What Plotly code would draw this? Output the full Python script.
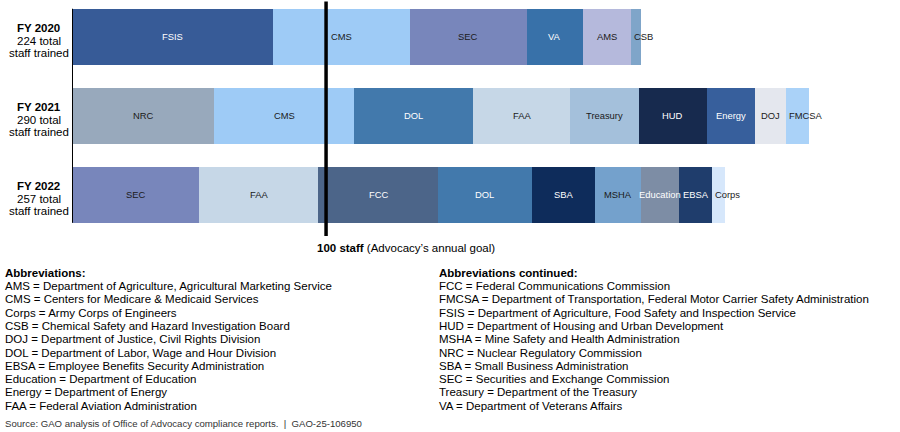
import plotly.graph_objects as go

# ---------------- data ----------------
years = ["FY 2020", "FY 2021", "FY 2022"]
agencies_2020 = ["FSIS", "CMS", "SEC", "VA", "AMS", "CSB"]
staff_2020 = [79, 54, 46, 22, 19, 4]
agencies_2021 = ["NRC", "CMS", "DOL", "FAA", "Treasury", "HUD", "Energy", "DOJ", "FMCSA"]
staff_2021 = [56, 55, 47, 38, 27, 27, 19, 12, 9]
agencies_2022 = ["SEC", "FAA", "FCC", "DOL", "SBA", "MSHA", "Education", "EBSA", "Corps"]
staff_2022 = [50, 47, 47, 37, 25, 18, 15, 13, 5]
goal_staff = 100
goal_label = "<b>100 staff</b> (Advocacy\u2019s annual goal)"

abbrev_left = [
    "AMS = Department of Agriculture, Agricultural Marketing Service",
    "CMS = Centers for Medicare & Medicaid Services",
    "Corps = Army Corps of Engineers",
    "CSB = Chemical Safety and Hazard Investigation Board",
    "DOJ = Department of Justice, Civil Rights Division",
    "DOL = Department of Labor, Wage and Hour Division",
    "EBSA = Employee Benefits Security Administration",
    "Education = Department of Education",
    "Energy = Department of Energy",
    "FAA = Federal Aviation Administration",
]
abbrev_right = [
    "FCC = Federal Communications Commission",
    "FMCSA = Department of Transportation, Federal Motor Carrier Safety Administration",
    "FSIS = Department of Agriculture, Food Safety and Inspection Service",
    "HUD = Department of Housing and Urban Development",
    "MSHA = Mine Safety and Health Administration",
    "NRC = Nuclear Regulatory Commission",
    "SBA = Small Business Administration",
    "SEC = Securities and Exchange Commission",
    "Treasury = Department of the Treasury",
    "VA = Department of Veterans Affairs",
]
source_text = "Source: GAO analysis of Office of Advocacy compliance reports.  |  GAO-25-106950"

# ---------------- style ----------------
FONT = "Liberation Sans, Arial, sans-serif"
colors = {
    "FSIS": "#375b97", "CMS": "#9ecbf6", "SEC": "#7886bb", "VA": "#3871a9",
    "AMS": "#b5b9dc", "CSB": "#7fa5c9", "NRC": "#98a9bc", "DOL": "#4279ac",
    "FAA": "#c6d7e7", "Treasury": "#a4c0db", "HUD": "#172a4e", "Energy": "#375f9c",
    "DOJ": "#e4e7ee", "FMCSA": "#aad2f8", "FCC": "#4c6589", "SBA": "#0e2c5b",
    "MSHA": "#74a1cc", "Education": "#7d8da5", "EBSA": "#1f3d6c", "Corps": "#d6e7fb",
}
white_text = {"FSIS", "VA", "DOL", "HUD", "Energy", "FCC", "SBA", "Education", "EBSA"}

W, H = 900, 432
ML, MR, MT, MB = 72, 15, 0, 196
PW, PH = W - ML - MR, H - MT - MB
BAR_W = 0.71


def px2x(p):
    return (p - ML) / PW


def px2y(p):
    return 1 - (p - MT) / PH


fig = go.Figure()
annotations = []
series = [(agencies_2020, staff_2020), (agencies_2021, staff_2021), (agencies_2022, staff_2022)]

for year, (ags, vals) in zip(years, series):
    starts = []
    s = 0
    for v in vals:
        starts.append(s)
        s += v
    fig.add_trace(go.Bar(
        y=[year] * len(vals), x=vals, base=starts, orientation="h",
        marker=dict(color=[colors[a] for a in ags], line=dict(width=0)),
        width=BAR_W, showlegend=False, hoverinfo="skip",
    ))
    for i, (a, v, st) in enumerate(zip(ags, vals, starts)):
        last = i == len(vals) - 1
        annotations.append(dict(
            x=st if last else st + v / 2, y=year, xref="x", yref="y",
            text=a, showarrow=False, xanchor="left" if last else "center",
            xshift=1 if last else 0, yanchor="middle",
            font=dict(family=FONT, size=9.4, color="white" if a in white_text else "#1a1a1a"),
        ))
    total = sum(vals)
    for txt, shift in [("<b>%s</b>" % year, 8.5), ("%d total" % total, -4), ("staff trained", -16.5)]:
        annotations.append(dict(
            x=px2x(38.7), y=year, xref="paper", yref="y", text=txt, showarrow=False,
            xanchor="center", yanchor="middle", yshift=shift,
            font=dict(family=FONT, size=11.5, color="#000"),
        ))

# goal label
annotations.append(dict(
    x=goal_staff, y=0, xref="x", yref="paper", text=goal_label, showarrow=False,
    xanchor="left", yanchor="top", xshift=-11, yshift=-4,
    font=dict(family=FONT, size=11.5, color="#000"),
))

# abbreviations
LINE = 13.3
annotations.append(dict(x=px2x(3), y=px2y(272.7), xref="paper", yref="paper",
                        text="<b>Abbreviations:</b>", showarrow=False, xanchor="left",
                        yanchor="middle", font=dict(family=FONT, size=11.5, color="#000")))
annotations.append(dict(x=px2x(437), y=px2y(272.7), xref="paper", yref="paper",
                        text="<b>Abbreviations continued:</b>", showarrow=False, xanchor="left",
                        yanchor="middle", font=dict(family=FONT, size=11.5, color="#000")))
for col_x, lines in [(3, abbrev_left), (437, abbrev_right)]:
    for i, t in enumerate(lines):
        annotations.append(dict(
            x=px2x(col_x), y=px2y(272.7 + (i + 1) * LINE), xref="paper", yref="paper",
            text=t, showarrow=False, xanchor="left", yanchor="middle",
            font=dict(family=FONT, size=11.5, color="#000"),
        ))
annotations.append(dict(x=px2x(3), y=px2y(423.5), xref="paper", yref="paper",
                        text=source_text, showarrow=False, xanchor="left", yanchor="middle",
                        font=dict(family=FONT, size=9.6, color="#333")))

shapes = [
    # left axis line spanning the bars
    dict(type="line", xref="x", yref="y", x0=0, x1=0,
         y0=-BAR_W / 2, y1=len(years) - 1 + BAR_W / 2,
         line=dict(color="#000", width=2)),
    # goal line
    dict(type="line", xref="x", yref="paper", x0=goal_staff, x1=goal_staff,
         y0=0, y1=px2y(1.5), line=dict(color="#000", width=3.5)),
]

fig.update_layout(
    width=W, height=H, margin=dict(l=ML, r=MR, t=MT, b=MB),
    paper_bgcolor="white", plot_bgcolor="white",
    barmode="overlay", bargap=0,
    xaxis=dict(range=[0, 320], visible=False, fixedrange=True),
    yaxis=dict(type="category", categoryorder="array", categoryarray=years,
               range=[2.522, -0.465], showticklabels=False, showgrid=False,
               zeroline=False, showline=False, ticks="", fixedrange=True),
    annotations=annotations, shapes=shapes,
    font=dict(family=FONT),
)

fig.write_html(
    "out.html",
    config={"displayModeBar": False},
    post_script="document.body.style.margin='0';document.body.style.overflow='hidden';",
)
